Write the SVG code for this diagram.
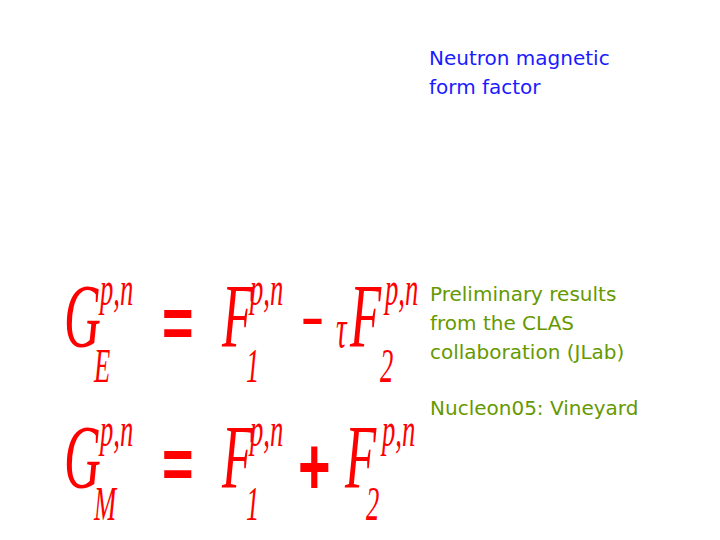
<svg xmlns="http://www.w3.org/2000/svg" width="720" height="540" viewBox="0 0 720 540">
<style>
.t{font-family:"DejaVu Sans",sans-serif;font-size:20px}
.b{fill:#1a1aff}
.g{fill:#669900}
.m{font-family:"Liberation Serif",serif;font-style:italic;fill:#ff0000}
.o{font-family:"Liberation Sans",sans-serif;fill:#ff0000;font-weight:bold}
</style>
<rect width="720" height="540" fill="#fff"/>
<g id="title"><text class="t b" x="429" y="65">Neutron magnetic</text><text class="t b" x="429" y="94">form factor</text></g>
<g id="note"><text class="t g" x="430" y="301">Preliminary results</text><text class="t g" x="430" y="330">from the CLAS</text><text class="t g" x="430" y="359">collaboration (JLab)</text><text class="t g" x="430" y="415">Nucleon05: Vineyard</text></g>
<g id="eq1">
<text class="m" transform="translate(64,347) scale(0.75,1.35)" font-size="68">G</text>
<text class="m" transform="translate(100,305) scale(0.7,1.3)" font-size="38">p,n</text>
<text class="m" transform="translate(94,382) scale(0.7,1.3)" font-size="38">E</text>
<text class="o" transform="translate(162,347) scale(0.9,1.2)" font-size="60">=</text>
<text class="m" transform="translate(222,347) scale(0.75,1.35)" font-size="68">F</text>
<text class="m" transform="translate(250,305) scale(0.7,1.3)" font-size="38">p,n</text>
<text class="m" transform="translate(246,382) scale(0.7,1.3)" font-size="38">1</text>
<text class="o" transform="translate(302,337) scale(0.9,1.2)" font-size="40">−</text>
<text class="m" transform="translate(336,347) scale(0.7,1.3)" font-size="42">τ</text>
<text class="m" transform="translate(350,347) scale(0.75,1.35)" font-size="68">F</text>
<text class="m" transform="translate(385,305) scale(0.7,1.3)" font-size="38">p,n</text>
<text class="m" transform="translate(380,382) scale(0.7,1.3)" font-size="38">2</text>
</g>
<g id="eq2">
<text class="m" transform="translate(64,488) scale(0.75,1.35)" font-size="68">G</text>
<text class="m" transform="translate(100,446) scale(0.7,1.3)" font-size="38">p,n</text>
<text class="m" transform="translate(94,520) scale(0.7,1.3)" font-size="38">M</text>
<text class="o" transform="translate(162,488) scale(0.9,1.2)" font-size="60">=</text>
<text class="m" transform="translate(222,488) scale(0.75,1.35)" font-size="68">F</text>
<text class="m" transform="translate(250,446) scale(0.7,1.3)" font-size="38">p,n</text>
<text class="m" transform="translate(246,520) scale(0.7,1.3)" font-size="38">1</text>
<text class="o" transform="translate(298,494) scale(0.9,1.3)" font-size="62">+</text>
<text class="m" transform="translate(345,488) scale(0.75,1.35)" font-size="68">F</text>
<text class="m" transform="translate(382,446) scale(0.7,1.3)" font-size="38">p,n</text>
<text class="m" transform="translate(366,520) scale(0.7,1.3)" font-size="38">2</text>
</g>
</svg>
